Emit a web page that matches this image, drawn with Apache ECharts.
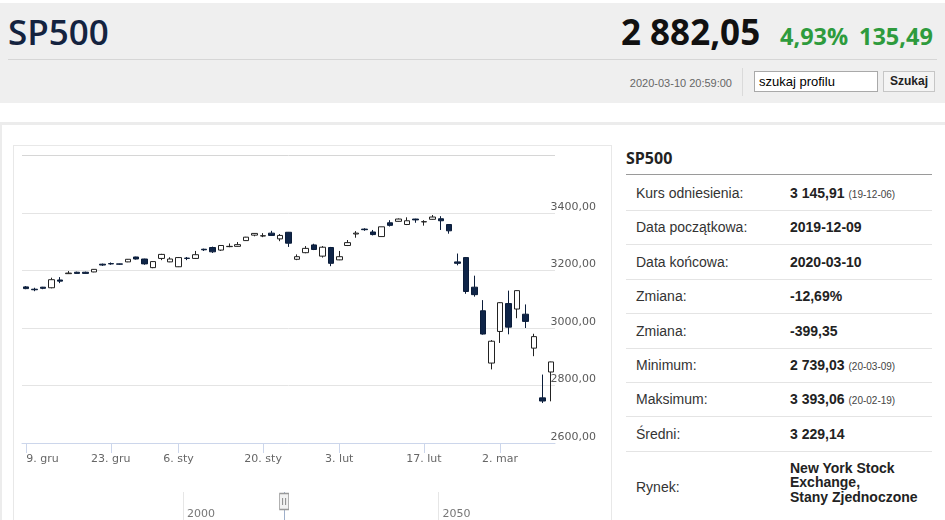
<!DOCTYPE html>
<html>
<head>
<meta charset="utf-8">
<script src="https://cdn.jsdelivr.net/npm/echarts@6/dist/echarts.min.js"></script>
<style>
  html, body { margin:0; padding:0; width:945px; height:520px; overflow:hidden; background:#fff; font-family:"Liberation Sans", Arial, sans-serif; }
  .abs { position:absolute; }
  #hdr { left:0; top:3px; width:945px; height:100px; background:#efefef; }
  #title { left:8px; top:10px; font-family:"Open Sans"; font-weight:600; font-size:35px; line-height:44px; color:#14233f; }
  #price { left:621px; top:10px; font-family:"Open Sans"; font-weight:700; font-size:35px; line-height:44px; color:#111; }
  .chg { top:19px; font-family:"Open Sans"; font-weight:700; font-size:23.5px; line-height:34px; color:#2e9b3d; }
  #hline { left:8px; top:59px; width:929px; height:1px; background:#d6d6d6; }
  #stamp { left:600px; width:132px; top:76px; text-align:right; font-size:11px; line-height:14px; color:#666; }
  #vsep { left:742px; top:68px; width:1px; height:28px; background:#dadada; }
  #search { left:754px; top:71px; width:118px; height:19px; border:1px solid #a9a9a9; background:#fff; font-size:13px; line-height:19px; padding-left:4px; box-sizing:content-box; color:#000; }
  #btn { left:883px; top:71px; width:50px; height:19px; border:1px solid #c6c6c6; background:#f4f4f4; font-size:12px; font-weight:bold; line-height:19px; text-align:center; color:#222; }
  #outer { left:0; top:122px; width:943px; height:400px; border-top:3px solid #ececec; border-left:2px solid #ececec; }
  #cbox { left:13px; top:145px; width:597px; height:380px; border:1px solid #e8e8e8; }
  #ptitle { left:626px; top:147px; font-family:"Open Sans"; font-weight:700; font-size:16px; line-height:22px; color:#222; }
  #pline { left:626px; top:174px; width:306px; height:1px; background:#9a9a9a; }
  .lab { left:636px; font-size:14px; color:#333; }
  .val { left:790px; font-size:14px; font-weight:bold; color:#222; }
  .sm { font-size:10px; font-weight:normal; color:#444; margin-left:4px; }
  .rsep { left:626px; width:306px; height:1px; background:#e4e4e4; }
  #chart { left:0; top:0; width:945px; height:520px; }
</style>
</head>
<body>
<div id="hdr" class="abs"></div>
<div id="title" class="abs">SP500</div>
<div id="price" class="abs">2 882,05</div>
<div class="abs chg" style="left:780px">4,93%</div>
<div class="abs chg" style="left:859px">135,49</div>
<div id="hline" class="abs"></div>
<div id="stamp" class="abs">2020-03-10 20:59:00</div>
<div id="vsep" class="abs"></div>
<div id="search" class="abs">szukaj profilu</div>
<div id="btn" class="abs">Szukaj</div>
<div id="outer" class="abs"></div>
<div id="cbox" class="abs"></div>
<div id="ptitle" class="abs">SP500</div>
<div id="pline" class="abs"></div>
<div id="panel"></div>
<div id="chart" class="abs"></div>
<script>
// ---- side panel texts ----
const panelLabels = ['Kurs odniesienia:', 'Data początkowa:', 'Data końcowa:', 'Zmiana:', 'Zmiana:', 'Minimum:', 'Maksimum:', 'Średni:', 'Rynek:'];
const panelValues = ['3 145,91', '2019-12-09', '2020-03-10', '-12,69%', '-399,35', '2 739,03', '3 393,06', '3 229,14', 'New York Stock<br>Exchange,<br>Stany Zjednoczone'];
const panelNotes  = ['(19-12-06)', '', '', '', '', '(20-03-09)', '(20-02-19)', '', ''];

// ---- chart data ----
const dates = [
  '2019-12-09','2019-12-10','2019-12-11','2019-12-12','2019-12-13','2019-12-16','2019-12-17','2019-12-18','2019-12-19','2019-12-20',
  '2019-12-23','2019-12-24','2019-12-26','2019-12-27','2019-12-30','2019-12-31',
  '2020-01-02','2020-01-03','2020-01-06','2020-01-07','2020-01-08','2020-01-09','2020-01-10','2020-01-13','2020-01-14','2020-01-15',
  '2020-01-16','2020-01-17','2020-01-21','2020-01-22','2020-01-23','2020-01-24','2020-01-27','2020-01-28','2020-01-29','2020-01-30','2020-01-31',
  '2020-02-03','2020-02-04','2020-02-05','2020-02-06','2020-02-07','2020-02-10','2020-02-11','2020-02-12','2020-02-13','2020-02-14',
  '2020-02-18','2020-02-19','2020-02-20','2020-02-21','2020-02-24','2020-02-25','2020-02-26','2020-02-27','2020-02-28',
  '2020-03-02','2020-03-03','2020-03-04','2020-03-05','2020-03-06','2020-03-09','2020-03-10'
];
const opens  = [3143,3135,3142,3140,3167,3189,3194,3194,3195,3222,3224,3223,3230,3247,3240,3210,
                3242,3230,3213,3243,3242,3274,3280,3271,3283,3284,3304,3323,3320,3330,3310,3333,3239,3262,3289,3250,3280,
                3237,3287,3327,3344,3334,3318,3366,3371,3360,3379,3369,3378,3380,3360,3230,3245,3142,3060,2878,
                2988,3085,3066,3048,2930,2757,2847];
const closes = [3137,3133,3138,3168,3163,3191,3190,3190,3204,3219,3223,3222,3239,3240,3223,3231,
                3256,3240,3245,3242,3255,3272,3265,3287,3284,3290,3316,3329,3321,3322,3322,3295,3248,3277,3273,3281,3225,
                3248,3297,3330,3342,3325,3352,3357,3379,3373,3376,3370,3386,3373,3338,3225,3127,3116,2979,2954,
                3088,3003,3130,3023,2970,2746,2882];
const lows   = [3135,3128,3135,3138,3156,3189,3189,3189,3194,3216,3220,3220,3229,3238,3220,3208,
                3236,3229,3212,3236,3240,3268,3261,3268,3281,3283,3303,3319,3316,3320,3302,3282,3236,3260,3271,3245,3215,
                3236,3285,3314,3338,3322,3317,3353,3370,3358,3366,3356,3377,3341,3328,3218,3119,3109,2977,2856,
                2948,2978,3034,3000,2902,2739,2745];
const highs  = [3146,3140,3143,3175,3177,3198,3196,3196,3205,3224,3228,3224,3240,3248,3241,3232,
                3258,3246,3247,3247,3268,3276,3283,3288,3294,3299,3317,3330,3330,3338,3327,3334,3256,3285,3293,3285,3282,
                3268,3306,3337,3347,3341,3352,3375,3381,3385,3380,3375,3393,3389,3361,3259,3247,3182,3097,2958,
                3090,3130,3131,3082,2980,2838,2883];
const tickDates  = ['2019-12-09','2019-12-23','2020-01-06','2020-01-21','2020-02-03','2020-02-18','2020-03-02'];
const tickLabels = ['9. gru','23. gru','6. sty','20. sty','3. lut','17. lut','2. mar'];
const navTickYears = [2000, 2050];
const navHandleYear = 2019.8;

// ---- build side panel ----
(function(){
  const p = document.getElementById('panel');
  let html = '';
  const rowH = 34.4, top0 = 176;
  panelLabels.forEach((lab, i) => {
    const t = top0 + rowH * i;
    if (i < panelLabels.length - 1) {
      html += `<div class="abs lab" style="top:${t}px;height:${rowH}px;line-height:${rowH}px">${lab}</div>`;
      html += `<div class="abs val" style="top:${t}px;height:${rowH}px;line-height:${rowH}px">${panelValues[i]}${panelNotes[i] ? '<span class="sm">' + panelNotes[i] + '</span>' : ''}</div>`;
      html += `<div class="abs rsep" style="top:${t + rowH - 0.5}px"></div>`;
    } else {
      html += `<div class="abs lab" style="top:${t + 27}px;line-height:18px">${lab}</div>`;
      html += `<div class="abs val" style="top:${t + 9.5}px;line-height:14.6px">${panelValues[i]}</div>`;
    }
  });
  p.innerHTML = html;
})();

// ---- chart ----
const ohlc = dates.map((d, i) => [opens[i], closes[i], lows[i], highs[i]]);
const tickIdx = tickDates.map(d => dates.indexOf(d));
const labelByDate = {};
tickDates.forEach((d, k) => { labelByDate[d] = tickLabels[k]; });

const chart = echarts.init(document.getElementById('chart'), null, { renderer: 'canvas' });
chart.setOption({
  animation: false,
  backgroundColor: 'transparent',
  textStyle: { fontFamily: 'DejaVu Sans' },
  grid: [
    { left: 22, top: 155.5, width: 533, height: 287.5 },
    { left: 22, top: 492, width: 537, height: 40 }
  ],
  xAxis: [
    {
      type: 'category', gridIndex: 0, data: dates, boundaryGap: true,
      axisLine: { lineStyle: { color: '#ccd6eb', width: 1 } },
      axisTick: { show: true, alignWithLabel: true, length: 10, lineStyle: { color: '#ccd6eb' },
                  interval: (i) => tickIdx.includes(i) },
      axisLabel: { interval: (i) => tickIdx.includes(i), formatter: (v) => labelByDate[v] || '',
                   color: '#666', fontSize: 11, fontFamily: 'DejaVu Sans', margin: 11, alignMinLabel: 'left' },
      splitLine: { show: false }
    },
    {
      type: 'value', gridIndex: 1, position: 'top', min: 1968.5, max: 2073.6, splitNumber: 2,
      axisLine: { show: true, lineStyle: { color: '#c4c4c4', width: 1 } },
      axisTick: { show: false },
      axisLabel: { inside: true, align: 'left', margin: 17, padding: [0, 0, 0, 4], color: '#777', fontSize: 11,
                   fontFamily: 'DejaVu Sans', showMinLabel: false, showMaxLabel: false,
                   formatter: (v) => navTickYears.includes(v) ? String(v) : '' },
      splitLine: { show: true, showMinLine: false, showMaxLine: false, lineStyle: { color: '#e6e6e6' } }
    }
  ],
  yAxis: [
    {
      type: 'value', gridIndex: 0, position: 'right', min: 2600, max: 3600, interval: 200,
      axisLine: { show: false }, axisTick: { show: false },
      axisLabel: { align: 'right', verticalAlign: 'bottom', lineHeight: 12, margin: 41, color: '#5a5a5a', fontSize: 11,
                   fontFamily: 'DejaVu Sans', showMaxLabel: false,
                   formatter: (v) => v.toFixed(2).replace('.', ',') },
      splitLine: { show: true, lineStyle: { color: ['#e4e4e4', '#e4e4e4', '#e4e4e4', '#e4e4e4', '#e4e4e4', '#d6d6d6'], width: 1 } }
    },
    { type: 'value', gridIndex: 1, min: 0, max: 1, show: false }
  ],
  series: [
    {
      type: 'candlestick', xAxisIndex: 0, yAxisIndex: 0, data: ohlc, barWidth: 6,
      itemStyle: { color: '#ffffff', color0: '#0f2548', borderColor: '#222222', borderColor0: '#0b1d3a', borderWidth: 1 }
    },
    {
      type: 'line', xAxisIndex: 1, yAxisIndex: 1, data: [[navHandleYear, 0.66]], showSymbol: false, symbol: 'none',
      lineStyle: { opacity: 0 },
      markLine: { silent: true, symbol: 'none', label: { show: false },
                  lineStyle: { color: '#9fb0cb', type: 'solid', width: 1 },
                  data: [{ xAxis: navHandleYear }] },
      markPoint: { silent: true, label: { show: false },
                   data: [
                     { coord: [navHandleYear, 0.66], symbol: 'rect', symbolSize: [9, 16], itemStyle: { color: '#f2f2f2', borderColor: '#999', borderWidth: 1 } },
                     { coord: [navHandleYear, 0.66], symbol: 'rect', symbolSize: [1, 7], symbolOffset: [-1.5, 0], itemStyle: { color: '#888' } },
                     { coord: [navHandleYear, 0.66], symbol: 'rect', symbolSize: [1, 7], symbolOffset: [1.5, 0], itemStyle: { color: '#888' } }
                   ] }
    }
  ]
});
</script>
</body>
</html>
